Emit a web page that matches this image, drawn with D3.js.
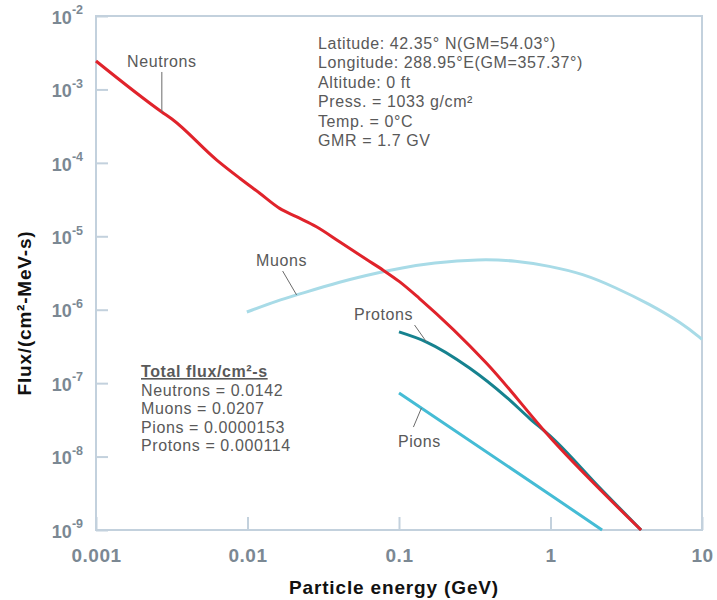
<!DOCTYPE html>
<meta charset="utf-8">
<style>
body { margin: 0; background: #fff; }
text { font-family: "Liberation Sans", Arial, Helvetica, sans-serif; }
.tick text { fill: #7b8893; font-weight: bold; }
.tick line { stroke: #c3d1dd; stroke-width: 2px; }
.note { fill: #595959; font-size: 16px; letter-spacing: 0.6px; }
.curve { fill: none; stroke-width: 3px; }
.leader { stroke: #6b6b6b; stroke-width: 1px; }
</style>
<body>
<script src="https://d3js.org/d3.v7.min.js"></script>
<script>

// values (energy in GeV, flux per cm2-MeV-s)
const neutronE = [0.001, 0.00272, 0.00317, 0.00627, 0.00889, 0.01205, 0.0163, 0.021, 0.0285, 0.0405, 0.0608, 0.0782, 0.1007, 0.136, 0.377, 1.03, 3.96];
const neutronF = [2.44e-3, 4.93e-4, 3.95e-4, 1.09e-4, 6.17e-5, 3.85e-5, 2.40e-5, 1.85e-5, 1.35e-5, 8.44e-6, 4.86e-6, 3.48e-6, 2.41e-6, 1.43e-6, 1.88e-7, 1.68e-8, 1e-9];
const muonE = [0.0099, 0.0163, 0.021, 0.0405, 0.0782, 0.1007, 0.167, 0.339, 0.591, 0.982, 1.63, 2.70, 4.48, 7.42, 10];
const muonF = [9.3e-7, 1.36e-6, 1.58e-6, 2.41e-6, 3.30e-6, 3.67e-6, 4.36e-6, 4.9e-6, 4.66e-6, 3.94e-6, 3.1e-6, 2.0e-6, 1.2e-6, 6.5e-7, 3.95e-7];
const protonE = [0.1, 0.152, 0.292, 0.511, 0.724, 1.03, 2.09, 3.96];
const protonF = [4.98e-7, 3.63e-7, 1.61e-7, 6.47e-8, 3.35e-8, 1.79e-8, 3.85e-9, 1e-9];
const pionE = [0.1, 1, 2.19];
const pionF = [7.35e-8, 3.0e-9, 1e-9];

const xTicks = [0.001, 0.01, 0.1, 1, 10];
const xTickLabels = ["0.001", "0.01", "0.1", "1", "10"];
const yTicks = [1e-9, 1e-8, 1e-7, 1e-6, 1e-5, 1e-4, 1e-3, 1e-2];

const infoLines = ["Latitude: 42.35° N(GM=54.03°)", "Longitude: 288.95°E(GM=357.37°)", "Altitude: 0 ft",
                   "Press. = 1033 g/cm²", "Temp. = 0°C", "GMR = 1.7 GV"];
const totalTitle = "Total flux/cm²-s";
const totalLines = ["Neutrons = 0.0142", "Muons = 0.0207", "Pions = 0.0000153", "Protons = 0.000114"];

// label text, energy of the leader's foot on the curve
const curveLabels = [
  {name: "Neutrons", e: 0.00272, dx: 0, dy: -40, tx: 0, ty: -45},
  {name: "Muons", e: 0.0211, dx: -14, dy: -24, tx: -15, ty: -29},
  {name: "Protons", e: 0.152, dx: -12, dy: -17, tx: -43, ty: -22},
  {name: "Pions", e: 0.1406, dx: -8, dy: 19, tx: -2, ty: 39}
];

const width = 717, height = 600,
      margin = {top: 16, right: 15, bottom: 70, left: 96};

const svg = d3.select("body").append("svg")
    .attr("width", width)
    .attr("height", height);

const x = d3.scaleLog().domain([0.001, 10]).range([margin.left, width - margin.right]);
const y = d3.scaleLog().domain([1e-9, 1e-2]).range([height - margin.bottom, margin.top]);

const series = [
  {name: "Muons", e: muonE, f: muonF, color: "#a8dbe7", curve: d3.curveBasis},
  {name: "Pions", e: pionE, f: pionF, color: "#45bcd5", curve: d3.curveLinear},
  {name: "Protons", e: protonE, f: protonF, color: "#16828f", curve: d3.curveMonotoneX},
  {name: "Neutrons", e: neutronE, f: neutronF, color: "#e0232b", curve: d3.curveMonotoneX}
];

// axes (ticks point inward)
svg.append("g")
    .attr("transform", `translate(0,${height - margin.bottom})`)
    .call(d3.axisBottom(x).tickValues(xTicks).tickSize(-13).tickPadding(19)
            .tickFormat((d, i) => xTickLabels[i]))
    .call(g => g.select(".domain").remove())
    .call(g => g.selectAll(".tick text").attr("font-size", 19).attr("font-family", null)
                .attr("letter-spacing", "0.5px"));

const yAxis = svg.append("g")
    .attr("transform", `translate(${margin.left},0)`)
    .call(d3.axisLeft(y).tickValues(yTicks).tickSize(-12).tickPadding(13).tickFormat(""))
    .call(g => g.select(".domain").remove());

yAxis.selectAll(".tick text")
    .attr("font-size", 18)
    .attr("font-family", null)
    .attr("dy", "0.4em")
    .each(function(d) {
      const t = d3.select(this);
      t.append("tspan").text("10");
      t.append("tspan").attr("font-size", 12.5).attr("dy", "-0.75em")
        .text(String(Math.round(Math.log10(d))));
    });

svg.append("rect")
    .attr("x", x.range()[0]).attr("y", y.range()[1])
    .attr("width", x.range()[1] - x.range()[0])
    .attr("height", y.range()[0] - y.range()[1])
    .attr("fill", "none")
    .attr("stroke", "#c3d1dd")
    .attr("stroke-width", 2);

// curves
svg.append("g")
  .selectAll("path")
  .data(series)
  .join("path")
    .attr("class", "curve")
    .attr("stroke", d => d.color)
    .attr("d", d => d3.line().curve(d.curve)(d.e.map((v, i) => [x(v), y(d.f[i])])));

// value on a series at energy e (interpolated in log space along the drawn points)
function fluxAt(s, e) {
  const le = s.e.map(Math.log10), lf = s.f.map(Math.log10), t = Math.log10(e);
  let i = d3.bisectRight(le, t) - 1;
  i = Math.max(0, Math.min(i, le.length - 2));
  const k = (t - le[i]) / (le[i + 1] - le[i]);
  return Math.pow(10, lf[i] + k * (lf[i + 1] - lf[i]));
}

const lab = svg.append("g")
  .selectAll("g")
  .data(curveLabels)
  .join("g")
    .attr("transform", d => {
      const s = series.find(c => c.name === d.name);
      return `translate(${x(d.e)},${y(fluxAt(s, d.e))})`;
    });

lab.append("line")
    .attr("class", "leader")
    .attr("x1", 0).attr("y1", 0)
    .attr("x2", d => d.dx).attr("y2", d => d.dy);

lab.append("text")
    .attr("class", "note")
    .attr("x", d => d.tx).attr("y", d => d.ty)
    .attr("text-anchor", "middle")
    .text(d => d.name);

// site info block
svg.append("g")
  .selectAll("text")
  .data(infoLines)
  .join("text")
    .attr("class", "note")
    .attr("x", 318)
    .attr("y", (d, i) => 49 + i * 19.4)
    .text(d => d);

// total flux block
const tot = svg.append("g").attr("transform", "translate(141,377)");
tot.append("text")
    .attr("class", "note")
    .attr("font-weight", "bold")
    .attr("text-decoration", "underline")
    .text(totalTitle);
tot.selectAll("text.row")
  .data(totalLines)
  .join("text")
    .attr("class", "note row")
    .attr("y", (d, i) => 18.6 * (i + 1))
    .text(d => d);

// axis titles
svg.append("text")
    .attr("x", 394)
    .attr("y", 594)
    .attr("text-anchor", "middle")
    .attr("font-size", 19)
    .attr("font-weight", "bold")
    .attr("letter-spacing", "0.85px")
    .attr("fill", "#111")
    .text("Particle energy (GeV)");

svg.append("text")
    .attr("transform", "translate(31,313) rotate(-90)")
    .attr("text-anchor", "middle")
    .attr("font-size", 19)
    .attr("font-weight", "bold")
    .attr("letter-spacing", "0.8px")
    .attr("fill", "#111")
    .text("Flux/(cm²-MeV-s)");

</script>
